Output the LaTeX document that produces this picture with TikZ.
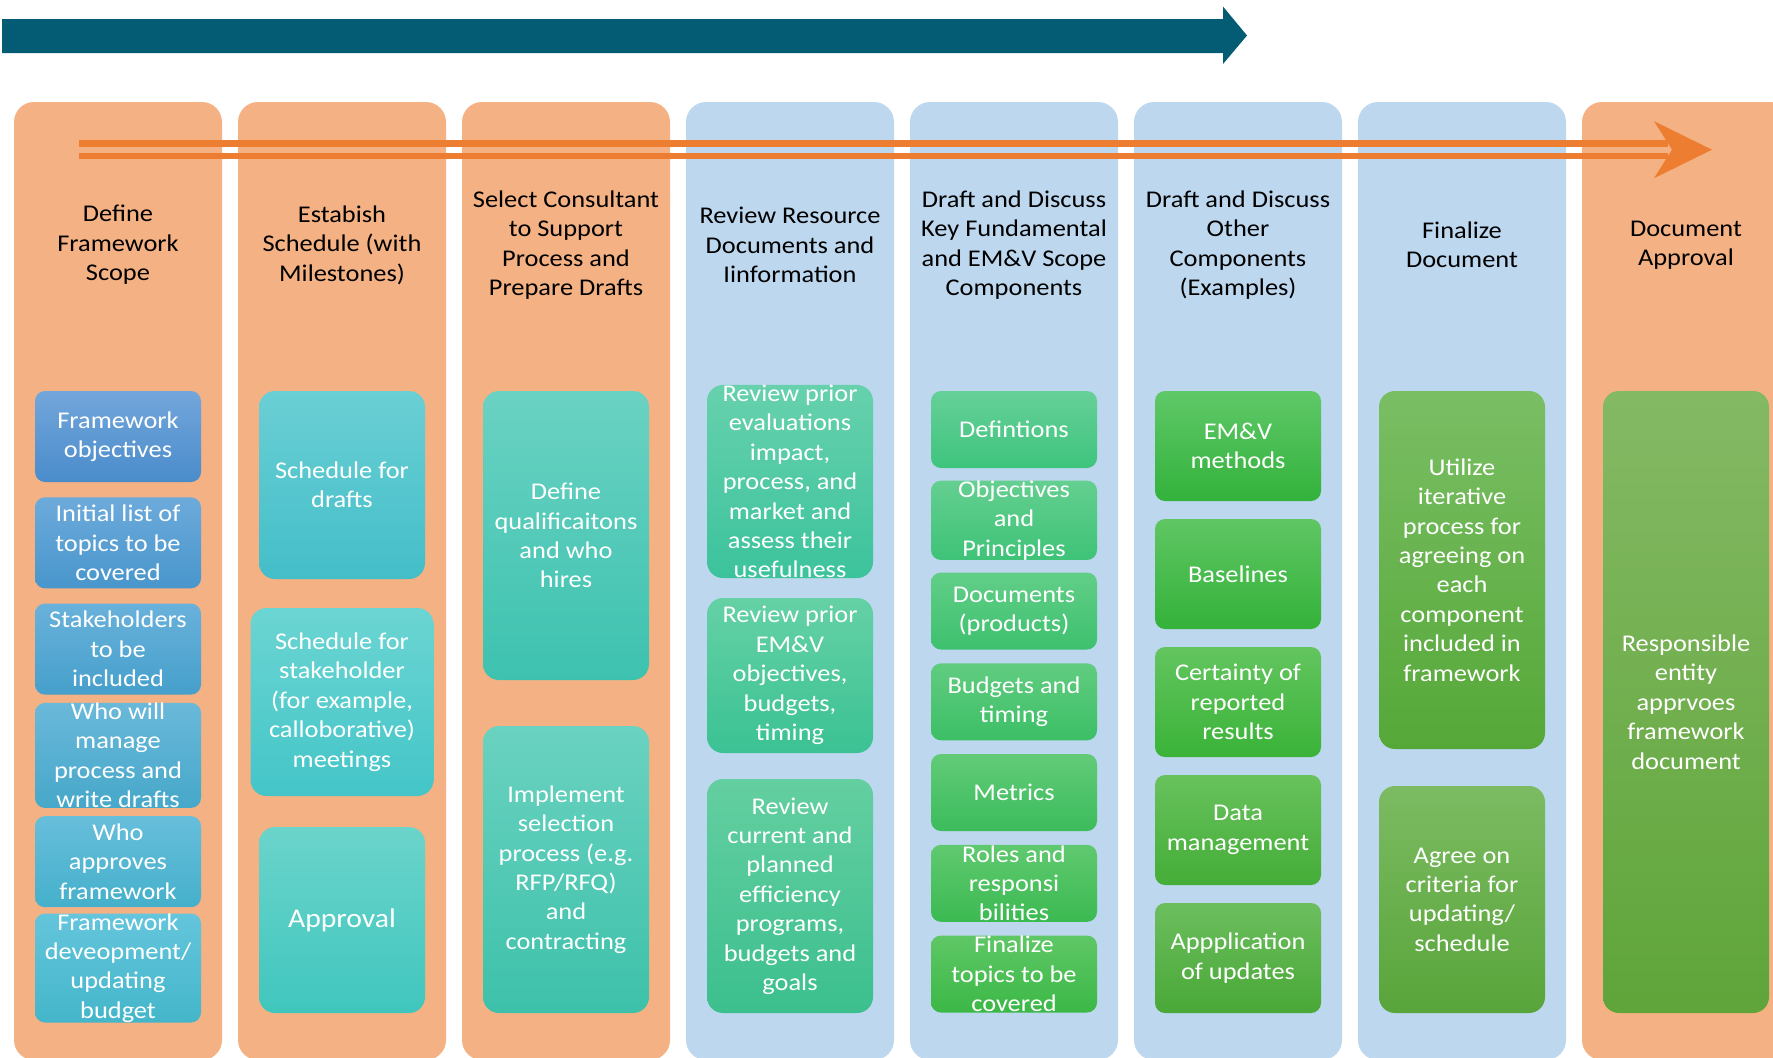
\documentclass[tikz,border=0pt]{standalone}
\usepackage{fontspec}
\setmainfont[FakeStretch=1.1]{Carlito}
\usetikzlibrary{positioning}

\definecolor{phaseorange}{HTML}{F4B183}
\definecolor{phaseblue}{HTML}{BDD7EE}
\definecolor{timeline}{HTML}{035C73}
\definecolor{flow}{HTML}{ED7D31}

\tikzset{
  phase/.style={rounded corners=10pt, minimum width=104pt, minimum height=479pt, inner sep=0pt},
  heading/.style={align=center, font=\fontsize{12}{14.7}\selectfont},
  task/.style={rounded corners=5pt, align=center, text=white, inner sep=0pt,
    minimum width=83pt, font=\fontsize{12}{14.7}\selectfont},
  bigtask/.style={rounded corners=8pt},
  flowline/.style={draw=flow, line width=3.35pt},
  tb/.style 2 args={/utils/exec={\definecolor{tbtop}{HTML}{#1}\definecolor{tbbot}{HTML}{#2}},
    top color=tbtop, bottom color=tbbot}
}

\begin{document}
\begin{tikzpicture}[x=0.5pt, y=-0.5pt]
      \useasboundingbox (0,0) rectangle (1773,1057);
      \clip (0,0) rectangle (1773,1057);
      % phase columns
      \begin{scope}[every node/.style=phase]
        \node (col1)[fill=phaseorange] at (118,581) {};
        \node (col2)[fill=phaseorange] at (342,581) {};
        \node (col3)[fill=phaseorange] at (566,581) {};
        \node (col4)[fill=phaseblue] at (790,581) {};
        \node (col5)[fill=phaseblue] at (1014,581) {};
        \node (col6)[fill=phaseblue] at (1238,581) {};
        \node (col7)[fill=phaseblue] at (1462,581) {};
        \node (col8)[fill=phaseorange] at (1686,581) {};
      \end{scope}
      % timeline arrow
      \fill[timeline] (2,19) -- (1223,19) -- (1223,6.5) -- (1247,35.5)
        -- (1223,64) -- (1223,53) -- (2,53) -- cycle;
      % flow arrow
      \coordinate (flowstart) at (79,149.7);
      \coordinate (flowend) at (1668,149.7);
      \coordinate (flowtip) at (1712,149.7);
      \draw[flowline] ([yshift=3.2pt]flowstart) -- ([yshift=3.2pt]flowend);
      \draw[flowline] ([yshift=-3.2pt]flowstart) -- ([yshift=-3.2pt]flowend);
      \fill[flow] (flowtip) -- ++(-58,-28.5) -- ++(18,28.5) -- ++(-18,28.5) -- cycle;
      % headings
      \begin{scope}[every node/.style=heading]
        \node (head1) at (118,245) {Define\\Framework\\Scope};
        \node (head2) at (342,245) {Estabish\\Schedule (with\\Milestones)};
        \node (head3) at (566,245) {Select Consultant\\to Support\\Process and\\Prepare Drafts};
        \node (head4) at (790,245) {Review Resource\\Documents and\\Iinformation};
        \node (head5) at (1014,245) {Draft and Discuss\\Key Fundamental\\and EM\&V Scope\\Components};
        \node (head6) at (1238,245) {Draft and Discuss\\Other\\Components\\(Examples)};
        \node (head7) at (1462,245) {Finalize\\Document};
        \node (head8) at (1686,245) {Document\\Approval};
      \end{scope}
      % tasks
      \begin{scope}[every node/.style=task]
        \node (scope1)[tb={73A6DB}{4A8CCB}, minimum height=45.5pt] at (118,436.5) {Framework\\objectives};
        \node (scope2)[tb={6DAADB}{4896CC}, minimum height=45.5pt] at (118,542.8) {Initial list of\\topics to be\\covered};
        \node (scope3)[tb={69B1DB}{45A0CB}, minimum height=45.5pt] at (118,649.1) {Stakeholders\\to be\\included};
        \node (scope4)[tb={6AB8DA}{46A8C9}, minimum height=45.5pt] at (118,755.4) {Who will\\manage\\process and\\write drafts};
        \node (scope5)[tb={67BEDB}{45B0CB}, minimum height=45.5pt] at (118,861.7) {Who\\approves\\framework};
        \node (scope6)[tb={64C5DC}{44B6CA}, minimum height=45.5pt] at (118,968) {Framework\\deveopment/\\updating\\budget};

        \node (sched1)[bigtask, tb={6ACFD4}{44BEC9}, minimum height=94pt] at (342,485) {Schedule for\\drafts};
        \node (sched2)[bigtask, tb={6BD5D2}{44C5C8}, minimum height=94pt, minimum width=91.5pt] at (342,702) {Schedule for\\stakeholder\\(for example,\\calloborative)\\meetings};
        \node (sched3)[bigtask, tb={6BD4CB}{40C6BE}, minimum height=93pt, font=\fontsize{13.5}{16}\selectfont] at (342,920) {Approval};

        \node (select1)[bigtask, tb={6AD2C2}{3EC2B0}, minimum height=144.5pt] at (566,535.5) {Define\\qualificaitons\\and who\\hires};
        \node (select2)[bigtask, tb={6AD2C0}{3DC1AA}, minimum height=143.5pt] at (566,869.5) {Implement\\selection\\process (e.g.\\RFP/RFQ)\\and\\contracting};

        \node (review1)[bigtask, tb={67D1AD}{3CC39C}, minimum height=90.5pt] at (790,481.5) {Review prior\\evaluations\\impact,\\process, and\\market and\\assess their\\usefulness};
        \node (review2)[bigtask, tb={65D1A5}{3BC294}, minimum height=77.5pt] at (790,675.5) {Review prior\\EM\&V\\objectives,\\budgets,\\timing};
        \node (review3)[bigtask, tb={64CFA1}{3CBF8E}, minimum height=117pt] at (790,896) {Review\\current and\\planned\\efficiency\\programs,\\budgets and\\goals};

        \node (key1)[tb={66D098}{3EC47D}, minimum height=38.5pt] at (1014,429.5) {Defintions};
        \node (key2)[tb={64CF90}{3EC377}, minimum height=38.5pt] at (1014,520.3) {Objectives\\and\\Principles};
        \node (key3)[tb={62CE88}{3DC16E}, minimum height=38.5pt] at (1014,611) {Documents\\(products)};
        \node (key4)[tb={61CC80}{3CBF66}, minimum height=38.5pt] at (1014,701.8) {Budgets and\\timing};
        \node (key5)[tb={62CB78}{3CBC5C}, minimum height=38.5pt] at (1014,792.5) {Metrics};
        \node (key6)[tb={60C970}{3BBA51}, minimum height=38.5pt] at (1014,883.3) {Roles and\\responsi\\bilities};
        \node (key7)[tb={5FC766}{3BB846}, minimum height=38.5pt] at (1014,974) {Finalize\\topics to be\\covered};

        \node (other1)[tb={5FC868}{33B23C}, minimum height=55pt] at (1238,446) {EM\&V\\methods};
        \node (other2)[tb={5FC663}{34B23A}, minimum height=55pt] at (1238,574) {Baselines};
        \node (other3)[tb={63C55F}{3AB338}, minimum height=55pt] at (1238,702) {Certainty of\\reported\\results};
        \node (other4)[tb={68C25D}{44AD37}, minimum height=55pt] at (1238,830) {Data\\management};
        \node (other5)[tb={6CBE5E}{49A837}, minimum height=55pt] at (1238,958) {Appplication\\of updates};

        \node (final1)[bigtask, tb={7ABE64}{55A838}, minimum height=179pt] at (1462,570) {Utilize\\iterative\\process for\\agreeing on\\each\\component\\included in\\framework};
        \node (final2)[bigtask, tb={7CBB62}{58A53A}, minimum height=113.5pt] at (1462,899.5) {Agree on\\criteria for\\updating/\\schedule};

        \node (approve1)[bigtask, tb={84B964}{5FA53A}, minimum height=311pt] at (1686,702) {Responsible\\entity\\apprvoes\\framework\\document};
      \end{scope}
    \end{tikzpicture}
\end{document}
